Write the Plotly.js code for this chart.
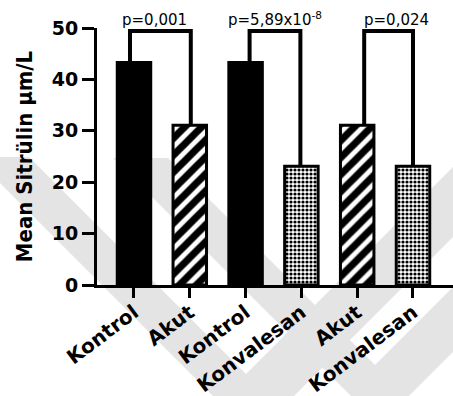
<!DOCTYPE html>
<html><head><meta charset="utf-8">
<script src="https://cdn.plot.ly/plotly-3.0.1.min.js"></script>
<style>html,body{margin:0;padding:0;background:#fff}#chart{width:453px;height:396px}</style>
</head><body><div id="chart"></div>
<script>
// ---- data ----
const categories = ['Kontrol', 'Akut', 'Kontrol', 'Konvalesan', 'Akut', 'Konvalesan'];
const values = [43.3, 31.1, 43.3, 23.1, 31.1, 23.1];
const groups = ['kontrol', 'akut', 'kontrol', 'konvalesan', 'akut', 'konvalesan'];
const comparisons = [[0, 1], [2, 3], [4, 5]];
const pLabels = ['p=0,001', 'p=5,89x10<sup>-8</sup>', 'p=0,024'];
const yTicks = [0, 10, 20, 30, 40, 50];

// ---- styles ----
const groupStyle = {
  kontrol:    {color: '#000', pattern: {shape: ''}},
  akut:       {color: '#fff', pattern: {shape: '/', fgcolor: '#000', bgcolor: '#fff', fgopacity: 1, size: 12, solidity: 0.6, fillmode: 'overlay'}},
  konvalesan: {color: '#fff', pattern: {shape: '.', fgcolor: '#000', bgcolor: '#fff', fgopacity: 1, size: 4, solidity: 0.5, fillmode: 'overlay'}}
};
const L = 97, T = 28, W = 356, H = 257;
const bracketY = 49.4;
const legShiftPx = [[-4, 1], [4, -1], [7, 0]];   // small horizontal nudges of bracket legs (px)
const labelShiftPx = [-6, 0, 8];                  // horizontal nudges of p-value labels (px)
const xs = categories.map((_, i) => i);
const xRange = [-0.663, 5.717];
const pxPerUnit = W / (xRange[1] - xRange[0]);

const traces = Object.keys(groupStyle).map(g => {
  const idx = xs.filter(i => groups[i] === g);
  return {
    type: 'bar',
    x: idx.map(i => xs[i]),
    y: idx.map(i => values[i]),
    width: 0.6,
    marker: {
      color: groupStyle[g].color,
      line: {color: '#000', width: 3},
      pattern: groupStyle[g].pattern
    },
    hoverinfo: 'skip',
    cliponaxis: false
  };
});

// watermark polygons (pixel space -> paper space)
const px = X => (X - L) / W;
const py = Y => (T + H - Y) / H;
function poly(pts) {
  return pts.map((p, i) => (i ? 'L' : 'M') + px(p[0]).toFixed(4) + ',' + py(p[1]).toFixed(4)).join(' ') + ' Z';
}
const wm1 = [[-26,157],[29,157],[246,374],[460,160],[460,230],[253.5,436.5]];
const wm2 = [[113,158],[168,158],[375,365],[460,280],[460,345],[380,425]];

const shapes = [
  {type: 'path', xref: 'paper', yref: 'paper', path: poly(wm1), fillcolor: '#e4e4e4', line: {width: 0}, layer: 'below'},
  {type: 'path', xref: 'paper', yref: 'paper', path: poly(wm2), fillcolor: '#e4e4e4', line: {width: 0}, layer: 'below'}
];
const annotations = [];
comparisons.forEach(([a, b], k) => {
  const xa = xs[a] + legShiftPx[k][0] / pxPerUnit;
  const xb = xs[b] + legShiftPx[k][1] / pxPerUnit;
  shapes.push({
    type: 'path', xref: 'x', yref: 'y',
    path: `M ${xa},${values[a]} L ${xa},${bracketY} L ${xb},${bracketY} L ${xb},${values[b]}`,
    line: {color: '#000', width: 4}, layer: 'above'
  });
  annotations.push({
    x: (xa + xb) / 2, y: bracketY, xref: 'x', yref: 'y',
    yanchor: 'bottom', yshift: 0, xshift: labelShiftPx[k], showarrow: false,
    text: pLabels[k],
    font: {family: 'DejaVu Sans', size: 15, color: '#000'}
  });
});

const layout = {
  width: 453, height: 396,
  margin: {l: L, r: 0, t: T, b: 396 - T - H},
  paper_bgcolor: '#fff',
  plot_bgcolor: 'rgba(0,0,0,0)',
  showlegend: false,
  barmode: 'overlay',
  xaxis: {
    range: xRange,
    tickmode: 'array', tickvals: xs, ticktext: categories,
    tickangle: -37,
    ticks: 'outside', ticklen: 10, tickwidth: 3, tickcolor: '#000',
    ticklabelstandoff: -5,
    showline: true, linewidth: 3, linecolor: '#000',
    showgrid: false, zeroline: false,
    tickfont: {family: 'DejaVu Sans', size: 20, weight: 'bold', color: '#000'},
    fixedrange: true
  },
  yaxis: {
    range: [0, 50],
    tickmode: 'array', tickvals: yTicks,
    ticks: 'outside', ticklen: 12, tickwidth: 3, tickcolor: '#000',
    showline: true, linewidth: 3, linecolor: '#000',
    showgrid: false, zeroline: false,
    tickfont: {family: 'DejaVu Sans', size: 19, weight: 'bold', color: '#000'},
    fixedrange: true,
    title: {
      text: 'Mean Sitrülin µm/L',
      font: {family: 'DejaVu Sans Condensed, sans-serif', size: 22, weight: 'bold', color: '#000'},
      standoff: 14
    }
  },
  shapes: shapes,
  annotations: annotations
};

Plotly.newPlot('chart', traces, layout, {displayModeBar: false, staticPlot: true});
</script>
</body></html>
